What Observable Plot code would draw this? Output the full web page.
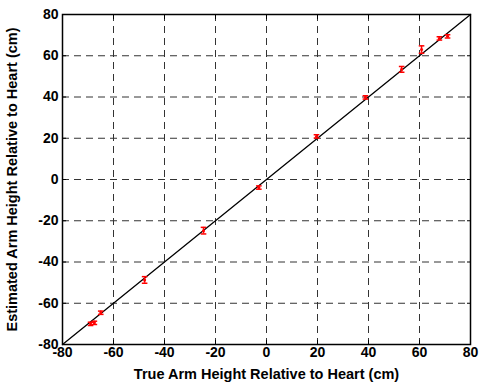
<!DOCTYPE html>
<html><head><meta charset="utf-8">
<script src="https://cdn.jsdelivr.net/npm/d3@7"></script>
<script src="https://cdn.jsdelivr.net/npm/@observablehq/plot@0.6"></script>
<style>
body{margin:0;background:#fff;}
svg{font-family:"Liberation Sans",Arial,sans-serif;}
</style></head>
<body><div id="chart"></div>
<script>
const trueHeight = [-69, -67.5, -65, -47.8, -24.7, -3, 19.6, 38.8, 53, 60.8, 67.8, 71];
const estHeight  = [-70, -69.5, -64.6, -48.7, -24.8, -3.9, 20.9, 39.8, 53.4, 63, 68.4, 69.4];
const errHeight  = [0.8, 0.8, 0.8, 1.6, 1.6, 0.8, 0.8, 0.8, 1.4, 1.8, 0.8, 0.8];
const ticks = [-80, -60, -40, -20, 0, 20, 40, 60, 80];
const identity = [-80, 80];

const pts = trueHeight.map((x, i) => ({x, y: estHeight[i], e: errHeight[i]}));
const capHalf = 1.1;

const chart = Plot.plot({
  width: 480, height: 390,
  marginLeft: 62, marginRight: 10, marginTop: 14, marginBottom: 46,
  x: {domain: [-80, 80], ticks},
  y: {domain: [-80, 80], ticks},
  style: {fontFamily: '"Liberation Sans", Arial, sans-serif', fontSize: "14px", fontWeight: "bold", color: "#000"},
  marks: [
    Plot.gridX(ticks.slice(1, -1), {stroke: "#333", strokeOpacity: 1, strokeDasharray: "7,5", strokeWidth: 1}),
    Plot.gridY(ticks.slice(1, -1), {stroke: "#333", strokeOpacity: 1, strokeDasharray: "7,5", strokeWidth: 1}),
    Plot.line(identity.map(v => ({x: v, y: v})), {x: "x", y: "y", stroke: "#000", strokeWidth: 1.3}),
    Plot.ruleX(pts, {x: "x", y1: d => d.y - d.e, y2: d => d.y + d.e, stroke: "#ff0000", strokeWidth: 1.5}),
    Plot.link(pts, {x1: d => d.x - capHalf, x2: d => d.x + capHalf, y1: d => d.y - d.e, y2: d => d.y - d.e, stroke: "#ff0000", strokeWidth: 1.5}),
    Plot.link(pts, {x1: d => d.x - capHalf, x2: d => d.x + capHalf, y1: d => d.y + d.e, y2: d => d.y + d.e, stroke: "#ff0000", strokeWidth: 1.5}),
    Plot.dot(pts, {x: "x", y: "y", r: 1.5, fill: "#ff0000"}),
    Plot.frame({stroke: "#000", strokeWidth: 1.5}),
    Plot.axisX({anchor: "bottom", ticks, tickSize: -4, tickPadding: 7, tickFormat: d => String(d), fontSize: 14, fontWeight: "bold", label: null}),
    Plot.axisX({anchor: "top", ticks, tickSize: -4, tickFormat: () => "", label: null}),
    Plot.axisY({anchor: "left", ticks, tickSize: -4, tickPadding: 8, tickFormat: d => String(d), fontSize: 14, fontWeight: "bold", label: null}),
    Plot.axisY({anchor: "right", ticks, tickSize: -4, tickFormat: () => "", label: null}),
    Plot.text(["True Arm Height Relative to Heart (cm)"], {frameAnchor: "bottom", dy: 34, fontSize: 14.5, fontWeight: "bold", text: d => d}),
    Plot.text(["Estimated Arm Height Relative to Heart (cm)"], {frameAnchor: "left", dx: -50, rotate: -90, textAnchor: "middle", fontSize: 14.5, fontWeight: "bold", text: d => d})
  ]
});
document.getElementById("chart").appendChild(chart);
</script>
</body></html>
